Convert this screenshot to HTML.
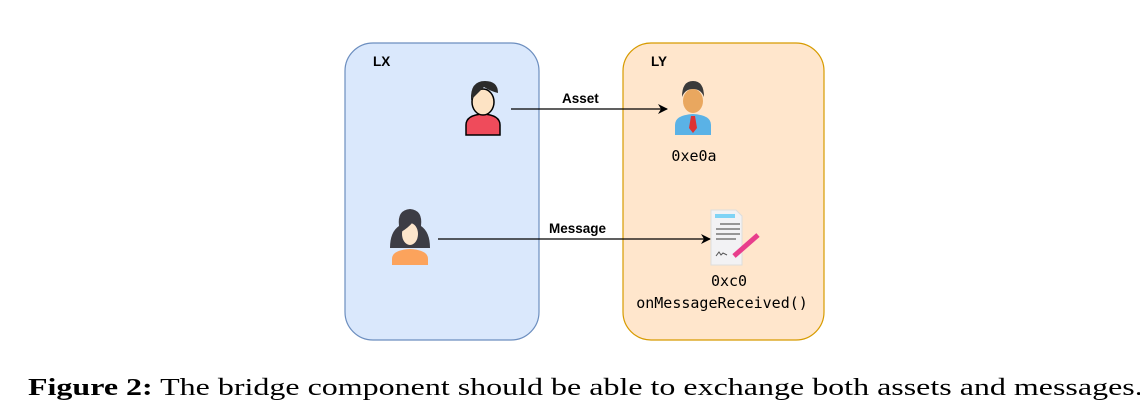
<!DOCTYPE html>
<html><head><meta charset="utf-8"><style>
html,body{margin:0;padding:0;background:#fff;width:1140px;height:416px;overflow:hidden}
.cap{position:absolute;left:28px;top:375px;font-family:"Liberation Serif",serif;font-size:24px;color:#000;white-space:nowrap;transform-origin:0 0;transform:scaleX(1.333)}
</style></head><body>
<svg width="1140" height="416" style="position:absolute;left:0;top:0" xmlns="http://www.w3.org/2000/svg">
<defs><marker id="ar" markerWidth="10" markerHeight="10" refX="9" refY="5" orient="auto" markerUnits="userSpaceOnUse"><path d="M0,0 L10,5 L0,10 L3,5 z" fill="#000"/></marker></defs>
<rect x="345" y="43" width="194" height="297" rx="28" fill="#dae8fc" stroke="#6c8ebf" stroke-width="1.2"/>
<rect x="623" y="43" width="201" height="297" rx="28" fill="#ffe6cc" stroke="#d79b00" stroke-width="1.2"/>
<g font-family="Liberation Sans,sans-serif" font-weight="bold" font-size="13.5" fill="#000">
<text x="373" y="66">LX</text><text x="651" y="66">LY</text>
<text x="562" y="103">Asset</text><text x="549" y="233">Message</text>
</g>
<line x1="511" y1="109" x2="667" y2="109" stroke="#000" stroke-width="1.2" marker-end="url(#ar)"/>
<line x1="438" y1="239" x2="710" y2="239" stroke="#000" stroke-width="1.2" marker-end="url(#ar)"/>
<path d="M466,135 v-10 q0,-10 17,-11 q17,1 17,11 v10 z" fill="#ef4b5b" stroke="#000" stroke-width="1.5"/>
<ellipse cx="483" cy="102" rx="11" ry="13" fill="#fde3c4" stroke="#000" stroke-width="1.5"/>
<path d="M471,100 q-1,-19 14,-19 q13,0 13,12 q-8,-2 -14,-6 q-5,5 -13,13z" fill="#2b2b2b"/>
<path d="M675,135 v-10 q0,-10 18,-11 q18,1 18,11 v10 z" fill="#5ab2e6"/>
<path d="M691,116 h4 l2,12 -4,5 -4,-5z" fill="#d33"/>
<ellipse cx="693" cy="101" rx="10" ry="12" fill="#e9a75f"/>
<path d="M682,97 q0,-16 11,-16 q11,0 11,16 q-3,-8 -11,-8 q-8,0 -11,8z" fill="#3a3a3a"/>
<path d="M390,248 q0,-16 9,-22 q-2,-16 11,-17 q13,1 11,17 q9,6 9,22z" fill="#3d3d45"/>
<path d="M392,265 v-6 q0,-9 18,-10 q18,1 18,10 v6z" fill="#fca35c"/>
<ellipse cx="410" cy="234" rx="8" ry="11" fill="#fde6cc"/>
<path d="M401,232 q2,-12 12,-10 q-5,6 -12,10z" fill="#3d3d45"/>
<path d="M711,210 h25 l6,6 v49 h-31z" fill="#f2f2f4" stroke="#ddd"/>
<rect x="715" y="214" width="20" height="4" fill="#7fd3f5"/>
<g stroke="#777" stroke-width="1.5"><line x1="720" y1="224" x2="740" y2="224"/><line x1="716" y1="229" x2="740" y2="229"/><line x1="716" y1="234" x2="740" y2="234"/><line x1="716" y1="239" x2="736" y2="239"/></g>
<path d="M716,256 l3,-4 2,3 2,-2 4,2" stroke="#555" fill="none"/>
<line x1="734" y1="256" x2="758" y2="235" stroke="#e83e8c" stroke-width="5"/>
<g font-family="DejaVu Sans Mono,Liberation Mono,monospace" font-size="15" fill="#000" text-anchor="middle">
<text x="694" y="161">0xe0a</text>
<text x="729" y="286">0xc0</text>
<text x="722" y="308">onMessageReceived()</text>
</g>
</svg>
<div class="cap"><b>Figure 2:</b> The bridge component should be able to exchange both assets and messages.</div>
</body></html>
